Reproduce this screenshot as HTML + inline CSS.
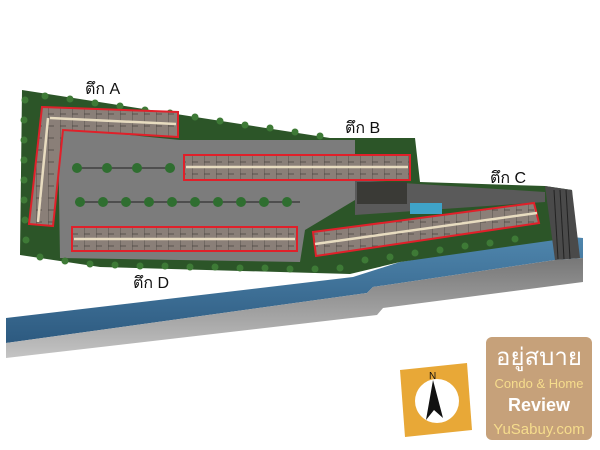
<!DOCTYPE html>
<html><head><meta charset="utf-8"><style>
html,body{margin:0;padding:0;background:#fff;width:600px;height:450px;overflow:hidden}
svg{display:block}
text{font-family:"Liberation Sans","Noto Sans CJK SC",sans-serif}
</style></head><body>
<svg width="600" height="450" viewBox="0 0 600 450" xmlns="http://www.w3.org/2000/svg">
<defs>
<linearGradient id="riv" x1="0" y1="0" x2="0" y2="1"><stop offset="0" stop-color="#4f86ad"/><stop offset="1" stop-color="#2d5a80"/></linearGradient>
<linearGradient id="bank" x1="0" y1="0" x2="0" y2="1"><stop offset="0" stop-color="#777"/><stop offset="1" stop-color="#c4c4c4"/></linearGradient>
<pattern id="units" width="12" height="12" patternUnits="userSpaceOnUse"><rect width="12" height="12" fill="#8a7f78"/><path d="M0 0V12M0 6H6" stroke="#4a4440" stroke-width="0.8"/></pattern>
</defs>
<!-- river + bank -->
<polygon points="6,318 353,277 400,262 560,236 583,238 583,258 555,260 373,287 367,293 6,343" fill="url(#riv)"/>
<polygon points="6,343 367,293 373,287 555,260 583,258 583,282 383,308 377,315 6,358" fill="url(#bank)"/>
<!-- site green -->
<polygon points="22,90 330,138 415,138 420,182 545,186 572,190 575,240 555,240 400,262 350,274 100,267 20,255" fill="#2c5528"/>
<!-- grey paved -->
<polygon points="58,128 180,140 355,140 355,200 305,230 300,262 60,258" fill="#7c7c7c"/>
<polygon points="355,180 545,192 545,202 355,215" fill="#5a5a5a"/>
<!-- right road / rail -->
<polygon points="545,186 572,190 580,258 555,260" fill="#4a4a4a"/>
<g stroke="#222" stroke-width="1"><line x1="554" y1="190" x2="558" y2="259"/><line x1="560" y1="190" x2="564" y2="259"/><line x1="566" y1="190" x2="570" y2="259"/></g>
<!-- plaza + pool -->
<rect x="357" y="182" width="50" height="22" fill="#3a3a36"/>
<rect x="410" y="203" width="32" height="11" fill="#3fa3c8"/>
<!-- tree border dots -->
<g fill="#3e7a36">
<circle cx="25" cy="100" r="3.5"/><circle cx="24" cy="120" r="3.5"/><circle cx="24" cy="140" r="3.5"/><circle cx="24" cy="160" r="3.5"/><circle cx="24" cy="180" r="3.5"/><circle cx="24" cy="200" r="3.5"/><circle cx="25" cy="220" r="3.5"/><circle cx="26" cy="240" r="3.5"/>
<circle cx="45" cy="96" r="3.5"/><circle cx="70" cy="99" r="3.5"/><circle cx="95" cy="103" r="3.5"/><circle cx="120" cy="106" r="3.5"/><circle cx="145" cy="110" r="3.5"/><circle cx="170" cy="113" r="3.5"/><circle cx="195" cy="117" r="3.5"/><circle cx="220" cy="121" r="3.5"/><circle cx="245" cy="125" r="3.5"/><circle cx="270" cy="128" r="3.5"/><circle cx="295" cy="132" r="3.5"/><circle cx="320" cy="136" r="3.5"/>
<circle cx="40" cy="257" r="3.5"/><circle cx="65" cy="261" r="3.5"/><circle cx="90" cy="264" r="3.5"/><circle cx="115" cy="265" r="3.5"/><circle cx="140" cy="266" r="3.5"/><circle cx="165" cy="266" r="3.5"/><circle cx="190" cy="267" r="3.5"/><circle cx="215" cy="267" r="3.5"/><circle cx="240" cy="268" r="3.5"/><circle cx="265" cy="268" r="3.5"/><circle cx="290" cy="269" r="3.5"/><circle cx="315" cy="269" r="3.5"/><circle cx="340" cy="268" r="3.5"/>
<circle cx="365" cy="260" r="3.5"/><circle cx="390" cy="257" r="3.5"/><circle cx="415" cy="253" r="3.5"/><circle cx="440" cy="250" r="3.5"/><circle cx="465" cy="246" r="3.5"/><circle cx="490" cy="243" r="3.5"/><circle cx="515" cy="239" r="3.5"/>
</g>
<!-- tree rows -->
<line x1="72" y1="168" x2="175" y2="168" stroke="#333" stroke-width="1.2"/>
<line x1="75" y1="202" x2="300" y2="202" stroke="#333" stroke-width="1.2"/>
<g fill="#2f6e30">
<circle cx="77" cy="168" r="5"/><circle cx="107" cy="168" r="5"/><circle cx="137" cy="168" r="5"/><circle cx="170" cy="168" r="5"/>
<circle cx="80" cy="202" r="5"/><circle cx="103" cy="202" r="5"/><circle cx="126" cy="202" r="5"/><circle cx="149" cy="202" r="5"/><circle cx="172" cy="202" r="5"/><circle cx="195" cy="202" r="5"/><circle cx="218" cy="202" r="5"/><circle cx="241" cy="202" r="5"/><circle cx="264" cy="202" r="5"/><circle cx="287" cy="202" r="5"/>
</g>
<!-- buildings -->
<g stroke="#e0202a" stroke-width="2" fill="url(#units)">
<polygon points="42,107 178,112 178,137 63,130 53,226 29,224"/>
<rect x="184" y="155" width="226" height="25"/>
<rect x="72" y="227" width="225" height="24"/>
<polygon points="313,232 534,203 539,223 316,256"/>
</g>
<g stroke="#e8dcc0" stroke-width="2.5" fill="none">
<line x1="50" y1="118" x2="176" y2="124"/><line x1="48" y1="118" x2="38" y2="222"/>
<line x1="186" y1="167" x2="408" y2="167"/>
<line x1="74" y1="239" x2="295" y2="239"/>
<line x1="315" y1="244" x2="537" y2="213"/>
</g>
<!-- labels -->
<g font-size="16" fill="#111">
<text x="85" y="94">ตึก A</text>
<text x="345" y="133">ตึก B</text>
<text x="490" y="183">ตึก C</text>
<text x="133" y="288">ตึก D</text>
</g>
<!-- compass -->
<polygon points="400,370 467,363 472,430 405,437" fill="#e8a837"/>
<circle cx="437" cy="401" r="22" fill="#fff"/>
<polygon points="433,380 426,420 434,410 443,418" fill="#111"/>
<text x="429" y="379" font-size="10" fill="#111">N</text>
<!-- logo -->
<rect x="486" y="337" width="106" height="103" rx="6" fill="#c6a17a"/>
<text x="539" y="365" font-size="24" fill="#fff" text-anchor="middle">อยู่สบาย</text>
<text x="539" y="388" font-size="13" fill="#f6dc8c" text-anchor="middle">Condo &amp; Home</text>
<text x="539" y="411" font-size="18" font-weight="bold" fill="#fff" text-anchor="middle">Review</text>
<text x="539" y="434" font-size="15" fill="#f6dc8c" text-anchor="middle">YuSabuy.com</text>
</svg>
</body></html>
